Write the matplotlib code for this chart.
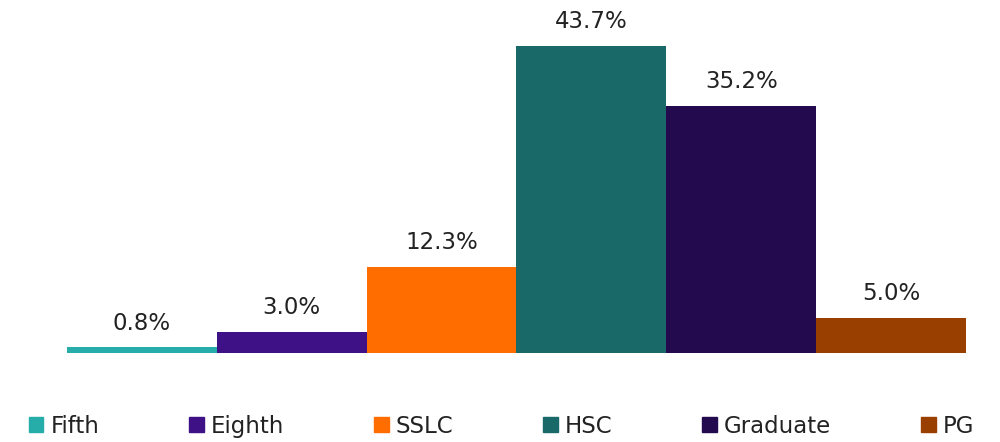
import matplotlib
matplotlib.use("Agg")
import matplotlib.pyplot as plt

categories = ["Fifth", "Eighth", "SSLC", "HSC", "Graduate", "PG"]
shares = [0.8, 3.0, 12.3, 43.7, 35.2, 5.0]
colors = ["#26ADA9", "#3F1187", "#FF6D00", "#186968", "#230A4F", "#994000"]

plt.rcParams["font.family"] = ["DejaVu Sans"]

fig = plt.figure(figsize=(10, 4.42), dpi=100)
ax = fig.add_axes([0.067, 0.2014, 0.899, 0.7948])

bars = ax.bar(range(len(categories)), shares, width=1.0, color=colors,
              label=categories)
for x, v in enumerate(shares):
    ax.annotate(f"{v:.1f}%", (x, v), xytext=(0, 9), textcoords="offset points",
                ha="center", va="bottom", fontsize=16.5, color="#222222")

ax.set_xlim(-0.5, 5.5)
ax.set_ylim(0, 50)
ax.axis("off")

handles = [plt.Rectangle((0, 0), 1, 1, color=c) for c in colors]
fig.legend(handles, categories, loc="center", bbox_to_anchor=(0.5015, 0.036),
           ncol=6, frameon=False, fontsize=16.5, handlelength=0.65,
           handleheight=0.65, handletextpad=0.3, columnspacing=3.92,
           labelcolor="#222222")

fig.savefig("out.png", dpi=100)
